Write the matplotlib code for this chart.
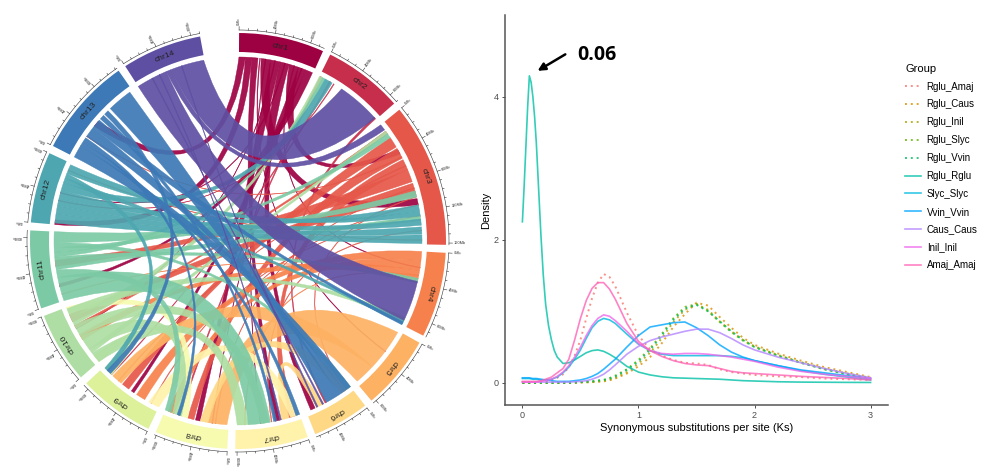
import matplotlib
matplotlib.use("Agg")
import matplotlib.pyplot as plt
import numpy as np
from matplotlib.lines import Line2D
from matplotlib.patches import PathPatch, Wedge
from matplotlib.path import Path

plt.rcParams["font.family"] = ["Liberation Sans", "DejaVu Sans"]

# ---- circos data ----
chrom_names = ["chr1", "chr2", "chr3", "chr4", "chr5", "chr6", "chr7",
               "chr8", "chr9", "chr10", "chr11", "chr12", "chr13", "chr14"]
chrom_len_mb = [96, 90, 162, 96, 84, 64, 82, 82, 86, 80, 88, 80, 112, 90]

# synteny blocks: (chr a, start, end, chr b, start, end), Mb, chromosomes 1-based
links = [
    (1, 0, 8, 13, 46, 54), (1, 8, 16, 12, 0, 6), (1, 16, 24, 7, 26, 32),
    (1, 28, 40, 3, 104, 112), (1, 40, 52, 8, 36, 42), (1, 52, 64, 6, 52, 58),
    (1, 64, 76, 3, 38, 44), (1, 76, 86, 9, 36, 40), (1, 86, 95, 11, 18, 22),
    (1, 26, 27, 5, 30, 31), (1, 45, 46, 10, 50, 51), (1, 70, 71, 4, 20, 21),
    (1, 58, 59, 12, 40, 41), (1, 33, 34, 7, 50, 51), (1, 80, 81, 8, 20, 21),
    (2, 1, 3, 8, 62, 64), (2, 14, 16, 9, 72, 73), (2, 86, 89, 6, 36, 38),
    (2, 20, 21, 12, 30, 31),
    (3, 10, 14, 10, 52, 55), (3, 20, 34, 9, 44, 54), (3, 36, 50, 8, 44, 52),
    (3, 52, 66, 7, 6, 14), (3, 66, 82, 11, 44, 52), (3, 84, 100, 10, 60, 70),
    (3, 48, 49, 13, 30, 31), (3, 101, 102, 6, 8, 9), (3, 112, 113, 8, 70, 71),
    (3, 126, 127, 9, 10, 11), (3, 144, 145, 7, 36, 37), (3, 156, 157, 12, 70, 71),
    (3, 60, 61, 9, 60, 61), (3, 90, 91, 8, 16, 17),
    (4, 0, 12, 9, 20, 32), (4, 12, 24, 8, 70, 78), (4, 24, 36, 10, 34, 42),
    (4, 36, 37, 11, 8, 9), (4, 30, 31, 7, 70, 71),
    (5, 2, 56, 8, 2, 26), (5, 56, 82, 9, 56, 70),
    (6, 0, 14, 8, 26, 36), (6, 40, 50, 7, 14, 24),
    (7, 0, 12, 9, 0, 14),
    (8, 52, 62, 10, 72, 80),
    (9, 72, 84, 10, 0, 10),
    (10, 0, 14, 7, 66, 80), (10, 14, 20, 3, 10, 14), (10, 20, 40, 8, 60, 72),
    (10, 40, 56, 7, 40, 50), (10, 56, 66, 2, 0, 4), (10, 66, 78, 4, 86, 92),
    (11, 0, 30, 7, 38, 66), (11, 30, 40, 8, 74, 82), (11, 40, 50, 3, 126, 132),
    (11, 50, 56, 4, 34, 40), (11, 56, 62, 2, 4, 8), (11, 62, 68, 3, 14, 20),
    (11, 68, 74, 6, 0, 6), (11, 74, 88, 3, 94, 102),
    (12, 2, 14, 3, 150, 161), (12, 14, 24, 3, 140, 149), (12, 24, 34, 3, 130, 138),
    (12, 34, 44, 3, 112, 120), (12, 44, 54, 2, 8, 18), (12, 54, 60, 4, 90, 95),
    (12, 60, 66, 9, 78, 84), (12, 66, 78, 3, 120, 126),
    (13, 0, 16, 6, 0, 10), (13, 16, 22, 7, 0, 5), (13, 22, 28, 8, 62, 66),
    (13, 30, 44, 6, 10, 18), (13, 44, 56, 4, 92, 96), (13, 58, 64, 7, 30, 34),
    (13, 66, 72, 9, 74, 80), (13, 76, 108, 6, 18, 36),
    (14, 0, 40, 4, 38, 90), (14, 40, 46, 3, 0, 8), (14, 46, 89, 2, 32, 88),
    (14, 20, 21, 6, 40, 42), (14, 30, 31, 7, 24, 26), (14, 60, 61, 6, 48, 50),
]

# ---- Ks density data ----
ks = [0, 0.03, 0.06, 0.09, 0.12, 0.16, 0.2, 0.25, 0.3, 0.35, 0.4, 0.45, 0.5,
      0.55, 0.6, 0.65, 0.7, 0.75, 0.8, 0.9, 1.0, 1.1, 1.2, 1.3, 1.4, 1.5, 1.6,
      1.7, 1.8, 1.9, 2.0, 2.2, 2.4, 2.6, 2.8, 3.0]
ks_rglu = [0, 0.015, 0.03, 0.045, 0.06, 0.075, 0.09, 0.105, 0.12, 0.14, 0.16,
           0.18, 0.2, 0.225, 0.25, 0.275, 0.3, 0.35, 0.4, 0.45, 0.5, 0.55, 0.6,
           0.65, 0.7, 0.75, 0.8, 0.9, 1.0, 1.1, 1.2, 1.3, 1.4, 1.5, 1.6, 1.7, 1.8,
           1.9, 2.0, 2.2, 2.4, 2.6, 2.8, 3.0]

groups = ["Rglu_Amaj", "Rglu_Caus", "Rglu_Inil", "Rglu_Slyc", "Rglu_Vvin",
          "Rglu_Rglu", "Slyc_Slyc", "Vvin_Vvin", "Caus_Caus", "Inil_Inil", "Amaj_Amaj"]
group_colors = ["#F8766D", "#DB8E00", "#AEA200", "#64B200", "#00BD5C",
                "#00C1A7", "#00BADE", "#00A6FF", "#B385FF", "#EF67EB", "#FF63B6"]
group_dotted = [True, True, True, True, True, False, False, False, False, False, False]

rglu_amaj = [0, 0, 0, 0, 0.005, 0.01, 0.02, 0.04, 0.07, 0.12, 0.22, 0.38, 0.6, 0.9,
             1.18, 1.4, 1.52, 1.48, 1.35, 0.98, 0.66, 0.47, 0.38, 0.32, 0.28, 0.27,
             0.25, 0.19, 0.15, 0.13, 0.11, 0.09, 0.08, 0.06, 0.05, 0.04]
rglu_caus = [0, 0, 0, 0, 0, 0, 0, 0, 0, 0, 0, 0, 0.005, 0.008, 0.01, 0.015, 0.02,
             0.035, 0.06, 0.13, 0.23, 0.36, 0.55, 0.78, 0.96, 1.12, 1.08, 0.92,
             0.77, 0.63, 0.53, 0.41, 0.31, 0.22, 0.15, 0.08]
rglu_inil = [0, 0, 0, 0, 0, 0, 0, 0, 0, 0, 0, 0, 0.005, 0.008, 0.01, 0.02, 0.03,
             0.045, 0.07, 0.15, 0.27, 0.42, 0.62, 0.85, 1.02, 1.1, 1.02, 0.86,
             0.72, 0.6, 0.51, 0.39, 0.29, 0.2, 0.13, 0.07]
rglu_slyc = [0, 0, 0, 0, 0, 0, 0, 0, 0, 0, 0, 0.005, 0.01, 0.015, 0.02, 0.03, 0.04,
             0.065, 0.1, 0.19, 0.32, 0.48, 0.68, 0.9, 1.06, 1.1, 1.0, 0.85, 0.71,
             0.59, 0.5, 0.38, 0.28, 0.19, 0.12, 0.06]
rglu_vvin = [0, 0, 0, 0, 0, 0, 0, 0, 0, 0, 0, 0.005, 0.01, 0.015, 0.02, 0.03, 0.04,
             0.06, 0.09, 0.18, 0.3, 0.46, 0.66, 0.88, 1.04, 1.09, 1.0, 0.86, 0.72,
             0.6, 0.5, 0.38, 0.28, 0.19, 0.12, 0.06]
rglu_rglu = [2.25, 2.75, 3.3, 3.85, 4.29, 4.2, 4.0, 3.72, 3.35, 2.7, 2.05, 1.5, 1.1,
             0.8, 0.6, 0.45, 0.36, 0.27, 0.28, 0.32, 0.37, 0.42, 0.45, 0.46, 0.44,
             0.4, 0.35, 0.23, 0.15, 0.11, 0.085, 0.07, 0.065, 0.06, 0.055, 0.05,
             0.04, 0.03, 0.025, 0.015, 0.01, 0.008, 0.006, 0.005]
slyc_slyc = [0.06, 0.06, 0.06, 0.05, 0.05, 0.04, 0.04, 0.05, 0.08, 0.14, 0.22, 0.33,
             0.46, 0.62, 0.77, 0.86, 0.9, 0.88, 0.83, 0.68, 0.54, 0.45, 0.4, 0.38,
             0.38, 0.38, 0.38, 0.38, 0.37, 0.35, 0.31, 0.24, 0.17, 0.12, 0.08, 0.04]
vvin_vvin = [0.07, 0.07, 0.07, 0.06, 0.06, 0.05, 0.04, 0.03, 0.02, 0.02, 0.02, 0.03,
             0.04, 0.06, 0.09, 0.13, 0.19, 0.26, 0.33, 0.5, 0.66, 0.78, 0.81, 0.84,
             0.85, 0.77, 0.66, 0.53, 0.43, 0.36, 0.31, 0.24, 0.18, 0.14, 0.1, 0.06]
caus_caus = [0.01, 0.01, 0.01, 0.01, 0.01, 0.01, 0.01, 0.01, 0.01, 0.01, 0.01, 0.015,
             0.02, 0.03, 0.05, 0.08, 0.12, 0.18, 0.25, 0.4, 0.51, 0.59, 0.64, 0.68,
             0.72, 0.75, 0.75, 0.7, 0.62, 0.53, 0.46, 0.36, 0.28, 0.2, 0.13, 0.07]
inil_inil = [0.01, 0.01, 0.01, 0.01, 0.01, 0.02, 0.03, 0.05, 0.09, 0.15, 0.24, 0.36,
             0.5, 0.66, 0.8, 0.9, 0.95, 0.93, 0.87, 0.72, 0.55, 0.45, 0.41, 0.4, 0.41,
             0.41, 0.4, 0.38, 0.36, 0.33, 0.3, 0.22, 0.16, 0.12, 0.09, 0.06]
amaj_amaj = [0.02, 0.02, 0.02, 0.02, 0.02, 0.03, 0.05, 0.08, 0.14, 0.2, 0.33, 0.6,
             0.9, 1.15, 1.32, 1.4, 1.4, 1.31, 1.17, 0.83, 0.58, 0.45, 0.37, 0.31, 0.27,
             0.25, 0.24, 0.2, 0.16, 0.14, 0.13, 0.11, 0.09, 0.075, 0.06, 0.04]

density = [rglu_amaj, rglu_caus, rglu_inil, rglu_slyc, rglu_vvin, rglu_rglu,
           slyc_slyc, vvin_vvin, caus_caus, inil_inil, amaj_amaj]
density_x = [ks, ks, ks, ks, ks, ks_rglu, ks, ks, ks, ks, ks]

# ---- circos layout (pixel-like units in the left axes) ----
CX, CY = 238, 234
R_TRACK_OUT, R_TRACK_IN = 208, 189
R_LINK = 184
R_AXIS = 211
GAP_DEG = 2.2
START_DEG = 0.3
END_DEG = 349.5

scale = (END_DEG - START_DEG - GAP_DEG * (len(chrom_len_mb) - 1)) / sum(chrom_len_mb)
chrom_start = []
acc = START_DEG
for n in chrom_len_mb:
    chrom_start.append(acc)
    acc += n * scale + GAP_DEG

chrom_colors = plt.cm.Spectral(np.linspace(0, 1, len(chrom_names)))


def ang(ci, pos):
    return chrom_start[ci] + pos * scale


def pol(theta, r):
    t = np.radians(theta)
    return CX + r * np.sin(t), CY + r * np.cos(t)


def ctrl(t1, t2):
    # bezier control point: near the centre for far ends, nearer the rim for close ends
    d = abs((t2 - t1 + 180) % 360 - 180)
    mid = t1 + ((t2 - t1 + 180) % 360 - 180) / 2
    return pol(mid, R_LINK * 0.5 * max(0.0, 1 - d / 90))


def ribbon(a, a1, a2, b, b1, b2):
    ta = np.linspace(ang(a, a1), ang(a, a2), 12)
    tb = np.linspace(ang(b, b1), ang(b, b2), 12)
    verts = [pol(t, R_LINK) for t in ta]
    codes = [Path.MOVETO] + [Path.LINETO] * (len(ta) - 1)
    verts += [ctrl(ta[-1], tb[0]), pol(tb[0], R_LINK)]
    codes += [Path.CURVE3, Path.CURVE3]
    verts += [pol(t, R_LINK) for t in tb[1:]]
    codes += [Path.LINETO] * (len(tb) - 1)
    verts += [ctrl(tb[-1], ta[0]), pol(ta[0], R_LINK), pol(ta[0], R_LINK)]
    codes += [Path.CURVE3, Path.CURVE3, Path.CLOSEPOLY]
    return Path(verts, codes)


def draw_circos(ax):
    for i, name in enumerate(chrom_names):
        t0 = chrom_start[i]
        t1 = t0 + chrom_len_mb[i] * scale
        ax.add_patch(Wedge((CX, CY), R_TRACK_OUT, 90 - t1, 90 - t0,
                           width=R_TRACK_OUT - R_TRACK_IN,
                           facecolor=chrom_colors[i], edgecolor="none"))
        tm = (t0 + t1) / 2
        x, y = pol(tm, (R_TRACK_OUT + R_TRACK_IN) / 2)
        ax.text(x, y, name, rotation=-tm, rotation_mode="anchor",
                ha="center", va="center", fontsize=6, color="#222222")

        # axis ring with ticks
        tt = np.linspace(t0, t1, 40)
        ring = np.array([pol(t, R_AXIS) for t in tt])
        ax.plot(ring[:, 0], ring[:, 1], color="#333333", lw=0.4)
        for mb in range(0, chrom_len_mb[i] + 1, 10):
            major = mb % 40 == 0
            t = ang(i, mb)
            p0 = pol(t, R_AXIS)
            p1 = pol(t, R_AXIS + (3.5 if major else 1.8))
            ax.plot([p0[0], p1[0]], [p0[1], p1[1]], color="#333333", lw=0.4)
            if major:
                lx, ly = pol(t, R_AXIS + 5)
                ax.text(lx, ly, f"{mb}Mb", rotation=90 - t, rotation_mode="anchor",
                        ha="left", va="center", fontsize=2.8, color="#333333")

    for a, a1, a2, b, b1, b2 in links:
        ax.add_patch(PathPatch(ribbon(a - 1, a1, a2, b - 1, b1, b2),
                               facecolor=chrom_colors[a - 1], edgecolor=chrom_colors[a - 1],
                               lw=0.3, alpha=0.92))


def draw_density(ax):
    handles = []
    for name, col, dotted, xs, ys in zip(groups, group_colors, group_dotted,
                                         density_x, density):
        ls = (0, (1, 2)) if dotted else "-"
        lw = 1.4 if dotted else 1.2
        ax.plot(xs, ys, color=col, ls=ls, lw=lw, alpha=0.8)
        handles.append(Line2D([0], [0], color=col, ls=ls, lw=lw, alpha=0.8, label=name))

    ax.set_xlim(-0.15, 3.15)
    ax.set_ylim(-0.31, 5.14)
    ax.set_xticks([0, 1, 2, 3])
    ax.set_yticks([0, 2, 4])
    for s in ["top", "right"]:
        ax.spines[s].set_visible(False)
    for s in ["left", "bottom"]:
        ax.spines[s].set_color("#555555")
        ax.spines[s].set_linewidth(1.1)
    ax.tick_params(colors="#333333", labelcolor="#4d4d4d", labelsize=6.5,
                   length=2.5, width=0.6, pad=2)
    ax.set_xlabel("Synonymous substitutions per site (Ks)", fontsize=8, labelpad=2)
    ax.set_ylabel("Density", fontsize=8, labelpad=2)

    ax.annotate("", xy=(0.11, 4.34), xytext=(0.39, 4.61),
                arrowprops=dict(arrowstyle="-|>", color="black", lw=1.8,
                                mutation_scale=11))
    ax.text(0.47, 4.58, "0.06", fontsize=14, fontweight="bold",
            family=["Open Sans", "DejaVu Sans"], va="center", ha="left")

    leg = ax.legend(handles=handles, title="Group", loc="upper left",
                    bbox_to_anchor=(1.035, 0.885), frameon=False, fontsize=7,
                    title_fontsize=8, handlelength=1.6, labelspacing=0.81,
                    handletextpad=0.6, borderaxespad=0)
    leg._legend_box.align = "left"


def main():
    fig = plt.figure(figsize=(10.08, 4.75), dpi=100)
    ax0 = fig.add_axes([0, 0, 480 / 1008, 1])
    ax0.set_xlim(0, 480)
    ax0.set_ylim(0, 475)
    ax0.axis("off")
    draw_circos(ax0)

    ax1 = fig.add_axes([505 / 1008, 70 / 475, 383 / 1008, 390 / 475])
    draw_density(ax1)

    fig.savefig("out.png", dpi=100)


if __name__ == "__main__":
    main()
